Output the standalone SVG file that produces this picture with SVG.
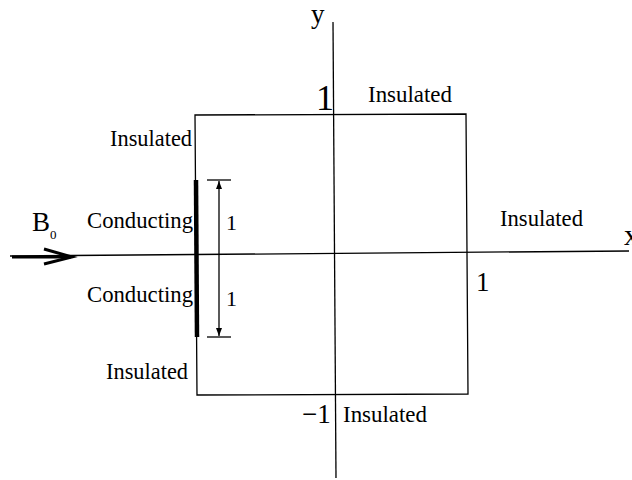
<svg xmlns="http://www.w3.org/2000/svg" width="632" height="480" viewBox="0 0 632 480">
<style>
text{font-family:"Liberation Serif","Times New Roman",serif;fill:#000}
.lab{font-size:24px}
.ln{stroke:#000;fill:none;stroke-width:1.3}
</style>
<defs>
<marker id="ah" markerWidth="8" markerHeight="10" refX="8" refY="5" orient="auto" markerUnits="userSpaceOnUse">
<path d="M0,2 L8,5 L0,8 Z" fill="#000"/>
</marker>
</defs>
<g id="connectors">
<line class="ln" x1="10" y1="256" x2="629" y2="251"/>
<line class="ln" x1="333" y1="22" x2="336" y2="478"/>
<line x1="12" y1="257" x2="71" y2="257" stroke="#000" stroke-width="3"/>
<polyline points="44,249 72,257 44,264" fill="none" stroke="#000" stroke-width="3"/>
<line class="ln" x1="219" y1="258" x2="219" y2="181" marker-end="url(#ah)"/>
<line class="ln" x1="219" y1="258" x2="219" y2="336" marker-end="url(#ah)"/>
<line class="ln" x1="207" y1="180" x2="231" y2="180"/>
<line class="ln" x1="207" y1="337" x2="231" y2="337"/>
</g>
<g id="box">
<polygon class="ln" points="195,115 466,114 468,394 197,395"/>
<line x1="196" y1="180" x2="197" y2="337" stroke="#000" stroke-width="4.5"/>
</g>
<g id="labels">
<text x="311" y="23" style="font-size:27px">y</text>
<text x="624" y="245" style="font-size:30px">x</text>
<text x="316" y="110" style="font-size:36px">1</text>
<text x="302" y="423" style="font-size:27px">−1</text>
<text x="476" y="291" style="font-size:27px">1</text>
<text x="368" y="102" class="lab" textLength="84" lengthAdjust="spacingAndGlyphs">Insulated</text>
<text x="343" y="422" class="lab" textLength="84" lengthAdjust="spacingAndGlyphs">Insulated</text>
<text x="500" y="226" class="lab" textLength="83" lengthAdjust="spacingAndGlyphs">Insulated</text>
<text x="110" y="146" class="lab" textLength="82" lengthAdjust="spacingAndGlyphs">Insulated</text>
<text x="106" y="379" class="lab" textLength="82" lengthAdjust="spacingAndGlyphs">Insulated</text>
<text x="87" y="228" class="lab" textLength="106" lengthAdjust="spacingAndGlyphs">Conducting</text>
<text x="87" y="302" class="lab" textLength="106" lengthAdjust="spacingAndGlyphs">Conducting</text>
<text x="226" y="230" style="font-size:22px">1</text>
<text x="226" y="306" style="font-size:22px">1</text>
<text x="32" y="231" style="font-size:27px">B<tspan dy="8" style="font-size:13px">0</tspan></text>
</g>
</svg>
